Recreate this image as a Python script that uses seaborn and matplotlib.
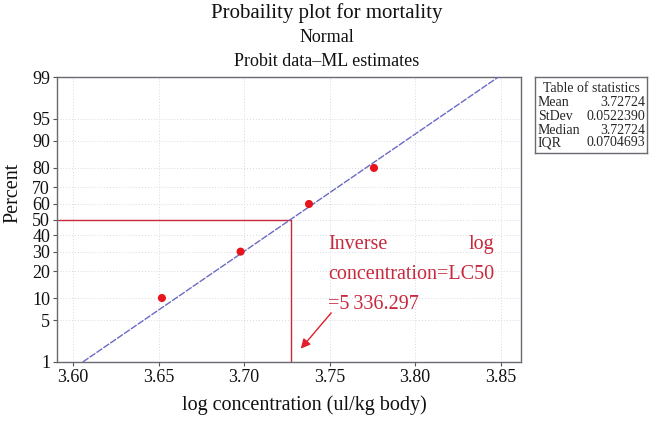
import matplotlib
matplotlib.use("Agg")
import matplotlib.pyplot as plt
import seaborn as sns
import pandas as pd
from statistics import NormalDist

# data
log_conc = [3.652, 3.698, 3.738, 3.776]
mortality_pct = [10, 30, 60, 80]
mean = 3.72724
stdev = 0.0522390
median = 3.72724
iqr = 0.0704693
y_ticks_pct = [1, 5, 10, 20, 30, 40, 50, 60, 70, 80, 90, 95, 99]
x_ticks = [3.60, 3.65, 3.70, 3.75, 3.80, 3.85]

nd = NormalDist()
def probit(p):
    return nd.inv_cdf(p / 100.0)

df_pts = pd.DataFrame({"x": log_conc, "z": [probit(p) for p in mortality_pct]})
fit_x = [mean + stdev * probit(1), mean + stdev * probit(99)]
df_fit = pd.DataFrame({"x": fit_x, "z": [(v - mean) / stdev for v in fit_x]})

sns.set_theme(style="white")
plt.rcParams["font.family"] = ["Liberation Serif", "DejaVu Serif"]

W, H = 656, 424
fig = plt.figure(figsize=(6.56, 4.24), dpi=100)
ax = fig.add_axes([57 / W, 1 - 362 / H, (521 - 57) / W, (362 - 77) / H])

# pixel helpers for the annotation placement
px_per_unit = 1710
x_lo = 3.60 - 16 / px_per_unit
x_hi = 3.85 + 20.5 / px_per_unit
def xpix(px):
    return 3.60 + (px - 73) / px_per_unit
def zpix(py):
    return (219.8 - py) / 61.2

red = "#c8283c"
ax.axhline(0, xmin=0, xmax=(mean - x_lo) / (x_hi - x_lo), color=red, lw=1.0, zorder=2)
ax.axvline(mean, ymin=0, ymax=0.5, color=red, lw=1.0, zorder=2)

sns.lineplot(data=df_fit, x="x", y="z", ax=ax, color="#6a6ac4", lw=1.0,
             linestyle=(0, (5, 1)), zorder=3)
sns.scatterplot(data=df_pts, x="x", y="z", ax=ax, color="#e8141c", s=34,
                edgecolor="none", zorder=4)

ax.set_xlim(x_lo, x_hi)
ax.set_ylim(probit(1), probit(99))
ax.set_xticks(x_ticks)
ax.set_xticklabels([f"{v:.2f}" for v in x_ticks])
ax.set_yticks([probit(p) for p in y_ticks_pct])
ax.set_yticklabels([str(p) for p in y_ticks_pct])
ax.tick_params(axis="both", direction="out", length=3, width=0.8, color="#555555",
               labelsize=13, labelcolor="#111111", bottom=True, left=True, pad=2)
ax.grid(True, color="#d8d8e4", linestyle=(0, (1, 2)), lw=0.7)
for sp in ax.spines.values():
    sp.set_color("#6a6a72")
    sp.set_linewidth(1.0)

ax.set_xlabel("")
ax.set_ylabel("")
fig.text(304 / W, 1 - 405 / H, "log concentration (ul/kg body)", ha="center", va="center",
         fontsize=14.5, color="#111111")
fig.text(13 / W, 1 - 193 / H, "Percent", ha="center", va="center", rotation=90,
         fontsize=14.5, color="#111111")

fig.text(327 / W, 1 - 13 / H, "Probaility plot for mortality", ha="center", va="center",
         fontsize=15, color="#111111")
fig.text(327 / W, 1 - 38 / H, "Normal", ha="center", va="center", fontsize=13, color="#111111")
fig.text(327 / W, 1 - 61 / H, "Probit data\u2013ML estimates", ha="center", va="center",
         fontsize=13, color="#111111")

# annotation
txt_red = "#c8283c"
ax.text(xpix(328), zpix(245), "Inverse", color=txt_red, fontsize=14.5, ha="left", va="center")
ax.text(xpix(494), zpix(245), "log", color=txt_red, fontsize=14.5, ha="right", va="center")
ax.text(xpix(328), zpix(275), "concentration=LC50", color=txt_red, fontsize=14.5,
        ha="left", va="center")
ax.text(xpix(328), zpix(305), "=5\u2009336.297", color=txt_red, fontsize=14.5,
        ha="left", va="center")
ax.annotate("", xy=(xpix(299), zpix(351)), xytext=(xpix(333), zpix(311)),
            arrowprops=dict(arrowstyle="-|>", color="#e0202c", lw=1.0, mutation_scale=14))

# table of statistics
tbl = fig.add_axes([535 / W, 1 - 153 / H, (647 - 535) / W, (153 - 77) / H])
tbl.set_xticks([])
tbl.set_yticks([])
tbl.set_xlim(535, 647)
tbl.set_ylim(153, 77)
for sp in tbl.spines.values():
    sp.set_color("#6a6a72")
    sp.set_linewidth(1.0)
tbl.text(591, 88, "Table of statistics", ha="center", va="center", fontsize=10)
rows = [("Mean", f"{mean:.5f}"), ("StDev", f"{stdev:.7f}"),
        ("Median", f"{median:.5f}"), ("IQR", f"{iqr:.7f}")]
row_y = [103, 116, 130, 143]
for (k, v), yy in zip(rows, row_y):
    tbl.text(538, yy, k, ha="left", va="center", fontsize=10)
    tbl.text(645, yy, v, ha="right", va="center", fontsize=10)

fig.savefig("out.png", dpi=100)
